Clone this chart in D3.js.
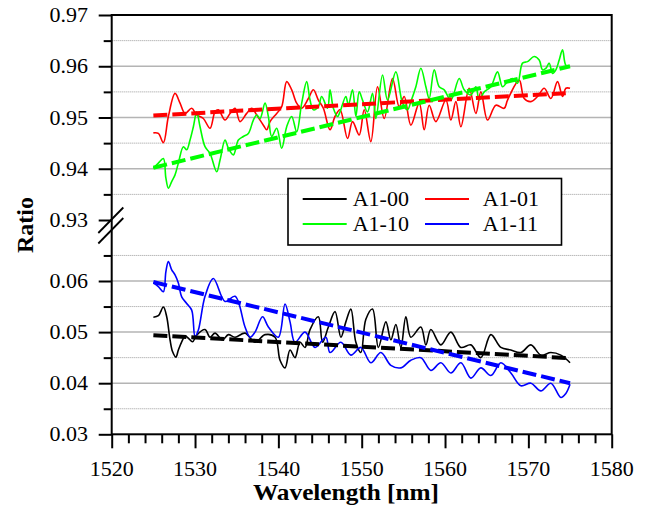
<!DOCTYPE html>
<html><head><meta charset="utf-8">
<script src="https://cdn.jsdelivr.net/npm/d3@7"></script>
<style>body{margin:0;background:#fff}svg{display:block}</style>
</head><body>
<svg id="chart" width="652" height="516"></svg>
<script>
// ---------------- data ----------------
const seriesNames = ["A1-00", "A1-01", "A1-10", "A1-11"];
const seriesColors = ["#000000", "#ff0000", "#00ff00", "#0000ff"];
const xTicks = [1520, 1530, 1540, 1550, 1560, 1570, 1580];
const yTicksTop = [0.93, 0.94, 0.95, 0.96, 0.97];
const yTicksBottom = [0.03, 0.04, 0.05, 0.06];
const yMinorTop = [0.935, 0.945, 0.955, 0.965];
const yMinorBottom = [0.035, 0.045, 0.055, 0.065];

const dataA100 = [[1525.0,0.0529],[1525.6,0.0532],[1526.2,0.0549],[1526.6,0.0530],[1527.0,0.0485],[1527.3,0.0462],[1527.7,0.0451],[1528.0,0.0465],[1528.4,0.0481],[1528.8,0.0492],[1529.2,0.0488],[1529.7,0.0481],[1530.2,0.0494],[1531.2,0.0505],[1531.8,0.0490],[1532.4,0.0498],[1533.3,0.0485],[1534.0,0.0495],[1534.8,0.0490],[1536.0,0.0498],[1537.2,0.0480],[1538.4,0.0495],[1539.6,0.0490],[1540.2,0.0445],[1540.8,0.0430],[1541.4,0.0465],[1542.0,0.0450],[1542.6,0.0480],[1543.2,0.0470],[1543.8,0.0505],[1544.8,0.0530],[1545.3,0.0480],[1546.0,0.0510],[1546.8,0.0540],[1547.5,0.0490],[1548.1,0.0520],[1548.7,0.0545],[1549.3,0.0480],[1549.9,0.0460],[1550.5,0.0525],[1551.3,0.0545],[1552.0,0.0470],[1552.9,0.0520],[1553.5,0.0485],[1554.1,0.0515],[1554.7,0.0470],[1555.3,0.0530],[1555.9,0.0490],[1557.1,0.0510],[1557.7,0.0475],[1558.3,0.0505],[1559.5,0.0475],[1560.7,0.0500],[1561.9,0.0470],[1563.1,0.0475],[1564.3,0.0450],[1565.5,0.0495],[1566.7,0.0470],[1567.9,0.0465],[1569.1,0.0460],[1570.3,0.0475],[1571.5,0.0455],[1572.7,0.0460],[1573.9,0.0455],[1575.0,0.0440]];

const dataA101 = [[1525.0,0.9470],[1525.6,0.9469],[1526.2,0.9451],[1526.8,0.9502],[1527.6,0.9547],[1528.2,0.9528],[1528.8,0.9508],[1529.6,0.9518],[1530.2,0.9505],[1531.0,0.9498],[1531.8,0.9479],[1532.4,0.9511],[1532.8,0.9515],[1533.6,0.9495],[1534.2,0.9508],[1534.8,0.9518],[1535.4,0.9492],[1536.2,0.9508],[1536.8,0.9518],[1537.4,0.9505],[1538.2,0.9485],[1538.6,0.9476],[1539.0,0.9492],[1539.8,0.9508],[1540.4,0.9521],[1541.0,0.9570],[1541.6,0.9554],[1542.2,0.9528],[1542.8,0.9518],[1543.6,0.9537],[1544.2,0.9554],[1544.8,0.9534],[1545.4,0.9518],[1546.2,0.9476],[1546.8,0.9502],[1547.4,0.9515],[1548.3,0.9459],[1548.9,0.9492],[1549.7,0.9466],[1550.3,0.9515],[1551.1,0.9453],[1551.9,0.9560],[1552.7,0.9498],[1553.7,0.9576],[1554.5,0.9521],[1555.1,0.9541],[1555.9,0.9485],[1556.9,0.9528],[1557.5,0.9476],[1558.1,0.9524],[1558.9,0.9492],[1560.1,0.9534],[1560.7,0.9495],[1561.3,0.9531],[1561.9,0.9482],[1562.9,0.9557],[1563.7,0.9508],[1564.3,0.9550],[1565.1,0.9495],[1566.1,0.9524],[1567.1,0.9518],[1567.5,0.9534],[1568.9,0.9573],[1569.5,0.9537],[1570.3,0.9531],[1571.1,0.9541],[1571.9,0.9557],[1572.7,0.9537],[1573.5,0.9570],[1574.1,0.9541],[1574.5,0.9557],[1575.0,0.9557]];

const dataA110 = [[1525.0,0.9401],[1525.6,0.9411],[1526.2,0.9420],[1526.5,0.9382],[1526.8,0.9362],[1527.2,0.9375],[1527.6,0.9388],[1528.0,0.9411],[1528.6,0.9443],[1529.0,0.9437],[1529.4,0.9456],[1529.8,0.9482],[1530.2,0.9511],[1530.6,0.9482],[1531.2,0.9443],[1531.8,0.9430],[1532.6,0.9394],[1533.0,0.9417],[1533.6,0.9456],[1534.0,0.9440],[1534.6,0.9427],[1535.2,0.9456],[1535.8,0.9463],[1536.4,0.9469],[1537.0,0.9495],[1537.4,0.9505],[1537.8,0.9498],[1538.4,0.9528],[1538.8,0.9502],[1539.2,0.9463],[1539.8,0.9479],[1540.4,0.9440],[1541.0,0.9482],[1541.6,0.9502],[1542.2,0.9472],[1542.8,0.9528],[1543.4,0.9570],[1543.8,0.9534],[1544.2,0.9515],[1544.8,0.9521],[1545.2,0.9541],[1545.9,0.9518],[1546.2,0.9554],[1546.6,0.9518],[1547.1,0.9502],[1547.4,0.9511],[1548.1,0.9541],[1548.4,0.9524],[1548.9,0.9554],[1549.3,0.9502],[1549.7,0.9550],[1550.1,0.9534],[1550.7,0.9511],[1551.3,0.9547],[1551.7,0.9498],[1552.5,0.9583],[1553.1,0.9534],[1554.1,0.9589],[1554.9,0.9528],[1555.5,0.9515],[1555.9,0.9531],[1556.5,0.9560],[1557.1,0.9596],[1557.7,0.9560],[1558.1,0.9537],[1558.7,0.9593],[1559.3,0.9560],[1559.9,0.9554],[1560.7,0.9534],[1561.7,0.9576],[1562.3,0.9554],[1563.1,0.9544],[1563.7,0.9560],[1564.1,0.9534],[1564.7,0.9550],[1565.5,0.9560],[1566.3,0.9589],[1566.9,0.9560],[1567.5,0.9570],[1568.1,0.9576],[1568.7,0.9567],[1569.3,0.9606],[1569.9,0.9609],[1570.7,0.9619],[1571.3,0.9612],[1571.7,0.9593],[1572.1,0.9596],[1572.5,0.9606],[1572.9,0.9586],[1573.3,0.9593],[1573.7,0.9612],[1574.1,0.9632],[1574.5,0.9602],[1575.0,0.9599]];

const dataA111 = [[1525.0,0.0597],[1525.6,0.0589],[1526.2,0.0579],[1526.5,0.0618],[1526.8,0.0638],[1527.2,0.0622],[1527.6,0.0612],[1528.0,0.0596],[1528.4,0.0569],[1529.0,0.0556],[1529.6,0.0543],[1530.0,0.0491],[1530.4,0.0504],[1531.2,0.0570],[1532.2,0.0605],[1533.6,0.0560],[1534.8,0.0570],[1536.0,0.0510],[1536.6,0.0490],[1537.2,0.0500],[1538.1,0.0530],[1538.8,0.0510],[1540.0,0.0490],[1540.8,0.0555],[1541.4,0.0520],[1542.0,0.0480],[1543.2,0.0500],[1544.4,0.0470],[1545.7,0.0490],[1546.2,0.0460],[1547.5,0.0480],[1548.7,0.0455],[1549.9,0.0470],[1551.1,0.0440],[1552.3,0.0460],[1553.5,0.0435],[1554.7,0.0430],[1555.9,0.0445],[1557.1,0.0450],[1558.3,0.0425],[1559.5,0.0440],[1560.7,0.0420],[1561.9,0.0440],[1563.1,0.0410],[1564.3,0.0430],[1565.5,0.0415],[1566.7,0.0440],[1567.9,0.0420],[1569.1,0.0395],[1570.3,0.0400],[1571.5,0.0385],[1572.7,0.0400],[1573.9,0.0372],[1574.5,0.0380],[1575.0,0.0398]];

const fitWavelengths = [1525, 1575];
const fitA100 = [0.0494, 0.0449];
const fitA101 = [0.9504, 0.9548];
const fitA110 = [0.9402, 0.9600];
const fitA111 = [0.0598, 0.0400];

// ---------------- layout ----------------
const svg = d3.select("#chart");
const L = 111.7, R = 611.7, T = 15, B = 434.3;
const x = d3.scaleLinear().domain([1520, 1580]).range([L, R]);
const yTop = d3.scaleLinear().domain([0.93, 0.97]).range([220, T]);
const yBot = d3.scaleLinear().domain([0.03, 0.06]).range([B, 281]);
const yFor = v => v > 0.5 ? yTop(v) : yBot(v);
const SX = 1.1;
const serif = "'Liberation Serif','Times New Roman',serif";

// gridlines
const gMajor = [...yTicksTop.filter(v => v < 0.97 && v > 0.93), ...yTicksBottom.filter(v => v > 0.03)];
const gMinor = [...yMinorTop, ...yMinorBottom];
svg.append("g").selectAll("line").data(gMajor).join("line")
  .attr("x1", L).attr("x2", R).attr("y1", d => yFor(d)).attr("y2", d => yFor(d))
  .attr("stroke", "#b4b4b4").attr("stroke-width", 1.5);
svg.append("g").selectAll("line").data(gMinor).join("line")
  .attr("x1", L).attr("x2", R).attr("y1", d => yFor(d)).attr("y2", d => yFor(d))
  .attr("stroke", "#9a9a9a").attr("stroke-width", 1).attr("stroke-dasharray", "1,1");

// series
const allData = [dataA100, dataA101, dataA110, dataA111];
const allFits = [fitA100, fitA101, fitA110, fitA111];
const smooth = d3.line().x(d => x(d[0])).y(d => yFor(d[1])).curve(d3.curveCatmullRom.alpha(0.5));
const straight = d3.line().x(d => x(d[0])).y(d => yFor(d[1]));
allData.forEach((ds, i) => {
  svg.append("path").datum(ds).attr("d", smooth)
    .attr("fill", "none").attr("stroke", seriesColors[i]).attr("stroke-width", 1.6)
    .attr("stroke-linejoin", "round");
});
allFits.forEach((f, i) => {
  const pts = fitWavelengths.map((w, k) => [w, f[k]]);
  svg.append("path").datum(pts).attr("d", straight)
    .attr("fill", "none").attr("stroke", seriesColors[i]).attr("stroke-width", 4)
    .attr("stroke-dasharray", "14,5");
});

// frame
svg.append("rect").attr("x", L).attr("y", T).attr("width", R - L).attr("height", B - T)
  .attr("fill", "none").attr("stroke", "#000").attr("stroke-width", 2);

// x axis ticks
const xMinor = d3.range(1520, 1581, 2).filter(v => v % 10 !== 0);
const xAxisMajor = d3.axisBottom(x).tickValues(xTicks).tickSize(14).tickFormat("");
const xAxisMinor = d3.axisBottom(x).tickValues(xMinor).tickSize(9).tickFormat("");
[xAxisMajor, xAxisMinor].forEach(ax => {
  const g = svg.append("g").attr("transform", `translate(0,${B})`).call(ax);
  g.select(".domain").remove();
  g.selectAll("line").attr("stroke", "#000").attr("stroke-width", 2);
});
svg.append("g").selectAll("text").data(xTicks).join("text")
  .attr("transform", d => `translate(${x(d)},476) scale(${SX},1)`)
  .attr("text-anchor", "middle").attr("font-family", serif).attr("font-size", 20)
  .text(d => d);

// y axis ticks
function yAxisPart(scale, major, minor) {
  const gM = svg.append("g").attr("transform", `translate(${L},0)`)
    .call(d3.axisLeft(scale).tickValues(major).tickSize(13).tickFormat(""));
  const gm = svg.append("g").attr("transform", `translate(${L},0)`)
    .call(d3.axisLeft(scale).tickValues(minor).tickSize(8).tickFormat(""));
  [gM, gm].forEach(g => {
    g.select(".domain").remove();
    g.selectAll("line").attr("stroke", "#000").attr("stroke-width", 2);
  });
  svg.append("g").selectAll("text").data(major).join("text")
    .attr("transform", d => `translate(88,${scale(d) + 7}) scale(${SX},1)`)
    .attr("text-anchor", "end").attr("font-family", serif).attr("font-size", 20)
    .text(d => d3.format(".2f")(d));
}
yAxisPart(yTop, yTicksTop, yMinorTop);
yAxisPart(yBot, yTicksBottom, yMinorBottom);

// axis break marks
svg.append("g").selectAll("line").data([0, 10.5]).join("line")
  .attr("x1", 98.3).attr("y1", d => 233 + d).attr("x2", 123.3).attr("y2", d => 207.5 + d)
  .attr("stroke", "#000").attr("stroke-width", 1.8);

// axis titles
svg.append("text").attr("transform", `translate(346,500) scale(${SX},1)`)
  .attr("text-anchor", "middle").attr("font-family", serif).attr("font-weight", "bold")
  .attr("font-size", 23).text("Wavelength [nm]");
svg.append("text").attr("transform", "translate(33,225) rotate(-90)")
  .attr("text-anchor", "middle").attr("font-family", serif).attr("font-weight", "bold")
  .attr("font-size", 24).text("Ratio");

// legend
const lg = svg.append("g");
lg.append("rect").attr("x", 288).attr("y", 178.5).attr("width", 273.5).attr("height", 66.5)
  .attr("fill", "#fff").attr("stroke", "#000").attr("stroke-width", 1.6);
const legendPos = [[302.7, 199], [425, 199], [302.7, 224], [425, 224]];
seriesNames.forEach((n, i) => {
  const [lx, ly] = legendPos[i];
  lg.append("line").attr("x1", lx).attr("x2", lx + 44).attr("y1", ly).attr("y2", ly)
    .attr("stroke", seriesColors[i]).attr("stroke-width", 2);
  lg.append("text").attr("transform", `translate(${lx + (i % 2 ? 57.7 : 50)},${ly + 7}) scale(${SX},1)`)
    .attr("font-family", serif).attr("font-size", 20).text(n);
});
</script>
</body></html>
